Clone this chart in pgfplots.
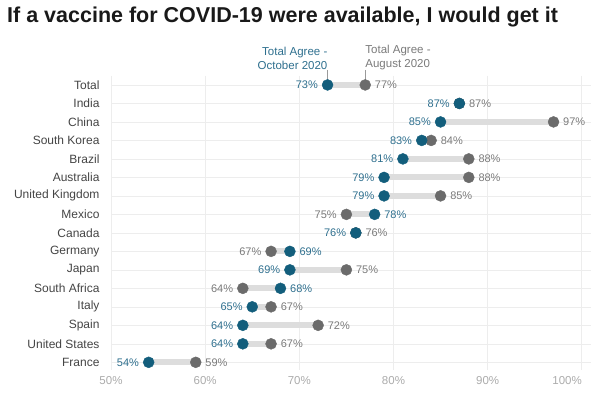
\documentclass[border=0pt]{standalone}
\usepackage{pgfplots}
\pgfplotsset{compat=1.18}
\usepackage{fontspec}
\setmainfont{Liberation Sans}
\definecolor{dotblue}{HTML}{135E7C}
\definecolor{txtblue}{HTML}{2E6F8E}
\definecolor{dotgrey}{HTML}{6B6B6B}
\definecolor{txtgrey}{HTML}{7A7A7A}
\definecolor{barg}{HTML}{DDDDDD}
\definecolor{gridc}{HTML}{EDEDED}
\definecolor{labc}{HTML}{444444}
\definecolor{tickc}{HTML}{ABABAB}
\definecolor{annc}{HTML}{9A9A9A}
\begin{document}
\begin{tikzpicture}[x=1pt,y=1pt]
\path[use as bounding box] (0,0) rectangle (601,399);
\node[anchor=base west, inner sep=0, font=\fontsize{21.5}{24}\selectfont\bfseries, text=black!90] at (7,376.3) {If a vaccine for COVID-19 were available, I would get it};
\begin{axis}[at={(111pt,29.3pt)}, anchor=south west, scale only axis,
  width=480.2pt, height=294pt,
  xmin=50, xmax=101, ymin=-0.5, ymax=15.4, y dir=reverse,
  /pgf/number format/assume math mode=true,
  axis line style={draw=none}, major tick length=0,
  xtick={50,60,70,80,90,100},
  xticklabels={50\%,60\%,70\%,80\%,90\%,\makebox[0pt][r]{100\%}},
  ytick={0,...,15},
  yticklabels={Total,India,China,South Korea,Brazil,Australia,United Kingdom,Mexico,Canada,Germany,Japan,South Africa,Italy,Spain,United States,France},
  xmajorgrids, ymajorgrids, grid style={gridc, line width=0.6pt},
  xticklabel style={font=\fontsize{11.5}{13}\selectfont, text=tickc, yshift=-3pt},
  yticklabel style={font=\fontsize{12}{14}\selectfont, text=labc, xshift=-8pt},
  clip=false]
% connecting bars
\addplot[barg, line width=6pt, unbounded coords=jump, forget plot] coordinates {
(73,0)(77,0)(nan,nan)
(87,1)(87,1)(nan,nan)
(85,2)(97,2)(nan,nan)
(83,3)(84,3)(nan,nan)
(81,4)(88,4)(nan,nan)
(79,5)(88,5)(nan,nan)
(79,6)(85,6)(nan,nan)
(78,7)(75,7)(nan,nan)
(76,8)(76,8)(nan,nan)
(69,9)(67,9)(nan,nan)
(69,10)(75,10)(nan,nan)
(68,11)(64,11)(nan,nan)
(65,12)(67,12)(nan,nan)
(64,13)(72,13)(nan,nan)
(64,14)(67,14)(nan,nan)
(54,15)(59,15)};
% annotation leader lines
\addplot[annc, line width=0.8pt, forget plot] coordinates {(73,-0.82)(73,0)};
\addplot[annc, line width=0.8pt, forget plot] coordinates {(77,-0.82)(77,0)};
% August 2020 dots
\addplot[only marks, mark=*, mark size=5.5pt, color=dotgrey, forget plot] coordinates {
(77,0)(87,1)(97,2)(84,3)(88,4)(88,5)(85,6)(75,7)(76,8)(67,9)(75,10)(64,11)(67,12)(72,13)(67,14)(59,15)};
% October 2020 dots
\addplot[only marks, mark=*, mark size=5.5pt, color=dotblue, forget plot] coordinates {
(73,0)(87,1)(85,2)(83,3)(81,4)(79,5)(79,6)(78,7)(76,8)(69,9)(69,10)(68,11)(65,12)(64,13)(64,14)(54,15)};
% labels: October on the left
\addplot[only marks, mark=none, point meta=x, forget plot,
  nodes near coords={\pgfmathprintnumber{\pgfplotspointmeta}\%},
  every node near coord/.append style={anchor=east, xshift=-9.5pt, inner sep=0, text=txtblue, font=\fontsize{11}{13}\selectfont}]
  coordinates {(73,0)(87,1)(85,2)(83,3)(81,4)(79,5)(79,6)(76,8)(69,10)(65,12)(64,13)(64,14)(54,15)};
% October on the right
\addplot[only marks, mark=none, point meta=x, forget plot,
  nodes near coords={\pgfmathprintnumber{\pgfplotspointmeta}\%},
  every node near coord/.append style={anchor=west, xshift=9.5pt, inner sep=0, text=txtblue, font=\fontsize{11}{13}\selectfont}]
  coordinates {(78,7)(69,9)(68,11)};
% August on the right
\addplot[only marks, mark=none, point meta=x, forget plot,
  nodes near coords={\pgfmathprintnumber{\pgfplotspointmeta}\%},
  every node near coord/.append style={anchor=west, xshift=9.5pt, inner sep=0, text=txtgrey, font=\fontsize{11}{13}\selectfont}]
  coordinates {(77,0)(87,1)(97,2)(84,3)(88,4)(88,5)(85,6)(76,8)(75,10)(67,12)(72,13)(67,14)(59,15)};
% August on the left
\addplot[only marks, mark=none, point meta=x, forget plot,
  nodes near coords={\pgfmathprintnumber{\pgfplotspointmeta}\%},
  every node near coord/.append style={anchor=east, xshift=-9.5pt, inner sep=0, text=txtgrey, font=\fontsize{11}{13}\selectfont}]
  coordinates {(75,7)(67,9)(64,11)};
% series annotations
\node[anchor=east, align=right, inner sep=0, text=txtblue, font=\fontsize{11.5}{14}\selectfont] at (axis cs:73,-1.46) {Total Agree -\\October 2020};
\node[anchor=west, align=left, inner sep=0, text=txtgrey, font=\fontsize{11.5}{14}\selectfont] at (axis cs:77,-1.46) {Total Agree -\\August 2020};
\end{axis}
\end{tikzpicture}
\end{document}
